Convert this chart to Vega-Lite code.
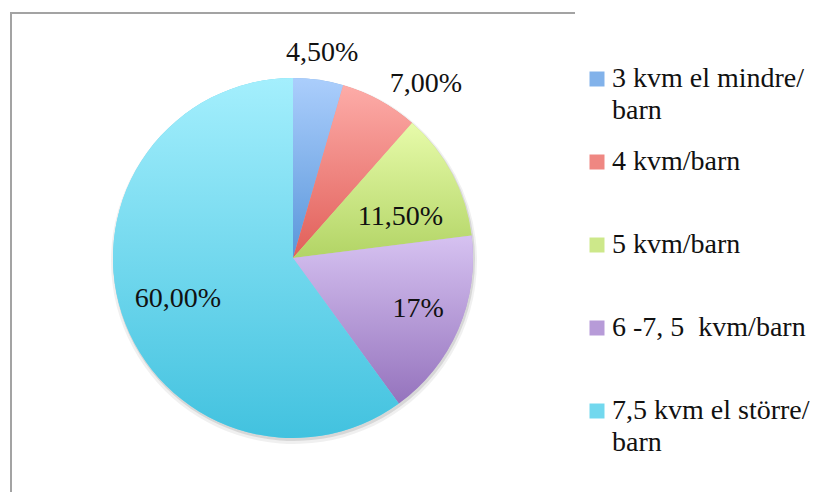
{
  "$schema": "https://vega.github.io/schema/vega-lite/v6.json",
  "width": 564,
  "height": 490,
  "padding": {"left": 11, "top": 13, "right": 265, "bottom": 0},
  "autosize": {"type": "none"},
  "background": "white",
  "view": {"stroke": "#a3a3a3", "strokeWidth": 2, "strokeDash": [564, 490, 1054]},
  "config": {
    "font": "Liberation Serif",
    "text": {"font": "Liberation Serif"},
    "style": {"guide-label": {"font": "Liberation Serif", "lineHeight": 32}},
    "legend": {
      "symbolType": "square",
      "symbolSize": 225,
      "symbolStrokeWidth": 0,
      "labelFont": "Liberation Serif",
      "labelFontSize": 28,
      "labelColor": "#111111",
      "labelOffset": 1,
      "labelLimit": 400,
      "gridAlign": "all",
      "rowPadding": 23
    }
  },
  "data": {
    "values": [
      {"kategori": "3 kvm el mindre/barn", "andel": 4.5, "etikett": "4,50%"},
      {"kategori": "4 kvm/barn", "andel": 7, "etikett": "7,00%"},
      {"kategori": "5 kvm/barn", "andel": 11.5, "etikett": "11,50%"},
      {"kategori": "6 -7, 5 \u00a0kvm/barn", "andel": 17, "etikett": "17%"},
      {"kategori": "7,5 kvm el större/barn", "andel": 60, "etikett": "60,00%"}
    ]
  },
  "encoding": {
    "theta": {"field": "andel", "type": "quantitative", "stack": true},
    "order": {"field": "andel", "sort": "ascending"}
  },
  "layer": [
    {
      "mark": {"type": "arc", "radius": 183, "color": "#000000", "opacity": 0.06, "yOffset": 3, "xOffset": 1}
    },
    {
      "mark": {"type": "arc", "radius": 181, "color": "#000000", "opacity": 0.1, "yOffset": 2, "xOffset": 1}
    },
    {
      "mark": {"type": "arc", "radius": 180},
      "encoding": {
        "color": {
          "field": "kategori",
          "type": "nominal",
          "sort": null,
          "scale": {
            "domain": ["3 kvm el mindre/barn", "4 kvm/barn", "5 kvm/barn", "6 -7, 5 \u00a0kvm/barn", "7,5 kvm el större/barn"],
            "range": ["#82b2ea", "#ef8782", "#cde88a", "#b79bd8", "#72d8ee"]
          },
          "legend": {
            "title": null,
            "orient": "none",
            "legendX": 572,
            "legendY": 52,
            "labelFont": "Liberation Serif",
            "labelExpr": "test(/ el /, datum.label) ? split(replace(datum.label, '/', '/|'), '|') : datum.label",
            "encode": {
              "labels": {"update": {"font": {"value": "Liberation Serif"}, "fontSize": {"value": 28}}},
              "symbols": {"update": {"fill": {"signal": "{'3': {gradient: 'linear', x1: 0, y1: 0, x2: 0, y2: 1, stops: [{offset: 0, color: '#abcefc'}, {offset: 1, color: '#5a96da'}]}, '4': {gradient: 'linear', x1: 0, y1: 0, x2: 0, y2: 1, stops: [{offset: 0, color: '#fdaca8'}, {offset: 1, color: '#e15f59'}]}, '5': {gradient: 'linear', x1: 0, y1: 0, x2: 0, y2: 1, stops: [{offset: 0, color: '#e7fbaa'}, {offset: 1, color: '#b2d465'}]}, '6': {gradient: 'linear', x1: 0, y1: 0, x2: 0, y2: 1, stops: [{offset: 0, color: '#d6c2f1'}, {offset: 1, color: '#9573bd'}]}, '7': {gradient: 'linear', x1: 0, y1: 0, x2: 0, y2: 1, stops: [{offset: 0, color: '#a4effd'}, {offset: 1, color: '#42c2df'}]}}[substring(datum.value, 0, 1)]"}}}
            }
          }
        }
      }
    },
    {
      "mark": {"type": "arc", "radius": 180},
      "encoding": {
        "detail": {"field": "kategori"},
        "color": {
          "condition": [
            {"test": "datum.andel < 5", "value": {"gradient": "linear", "x1": 0, "y1": 0, "x2": 0, "y2": 1, "stops": [{"offset": 0, "color": "#abcefc"}, {"offset": 1, "color": "#5a96da"}]}},
            {"test": "datum.andel < 10", "value": {"gradient": "linear", "x1": 0, "y1": 0, "x2": 0, "y2": 1, "stops": [{"offset": 0, "color": "#fdaca8"}, {"offset": 1, "color": "#e15f59"}]}},
            {"test": "datum.andel < 15", "value": {"gradient": "linear", "x1": 0, "y1": 0, "x2": 0, "y2": 1, "stops": [{"offset": 0, "color": "#e7fbaa"}, {"offset": 1, "color": "#b2d465"}]}},
            {"test": "datum.andel < 30", "value": {"gradient": "linear", "x1": 0, "y1": 0, "x2": 0, "y2": 1, "stops": [{"offset": 0, "color": "#d6c2f1"}, {"offset": 1, "color": "#9573bd"}]}}
          ],
          "value": {"gradient": "linear", "x1": 0, "y1": 0, "x2": 0, "y2": 1, "stops": [{"offset": 0, "color": "#a4effd"}, {"offset": 1, "color": "#42c2df"}]}
        }
      }
    },
    {
      "mark": {"type": "text", "radius": 207, "fontSize": 28, "color": "#111111"},
      "encoding": {
        "detail": {"field": "kategori"},
        "text": {"condition": {"test": "datum.andel < 5", "field": "etikett"}, "value": ""}
      }
    },
    {
      "mark": {"type": "text", "radius": 219, "thetaOffset": 0.15, "fontSize": 28, "color": "#111111"},
      "encoding": {
        "detail": {"field": "kategori"},
        "text": {"condition": {"test": "datum.andel >= 5 && datum.andel < 10", "field": "etikett"}, "value": ""}
      }
    },
    {
      "mark": {"type": "text", "radius": 115, "thetaOffset": 0.124, "fontSize": 28, "color": "#111111"},
      "encoding": {
        "detail": {"field": "kategori"},
        "text": {"condition": {"test": "datum.andel >= 10 && datum.andel < 15", "field": "etikett"}, "value": ""}
      }
    },
    {
      "mark": {"type": "text", "radius": 135, "thetaOffset": -0.023, "fontSize": 28, "color": "#111111"},
      "encoding": {
        "detail": {"field": "kategori"},
        "text": {"condition": {"test": "datum.andel >= 15 && datum.andel < 30", "field": "etikett"}, "value": ""}
      }
    },
    {
      "mark": {"type": "text", "radius": 122, "thetaOffset": -0.026, "fontSize": 28, "color": "#111111"},
      "encoding": {
        "detail": {"field": "kategori"},
        "text": {"condition": {"test": "datum.andel >= 30", "field": "etikett"}, "value": ""}
      }
    }
  ]
}
